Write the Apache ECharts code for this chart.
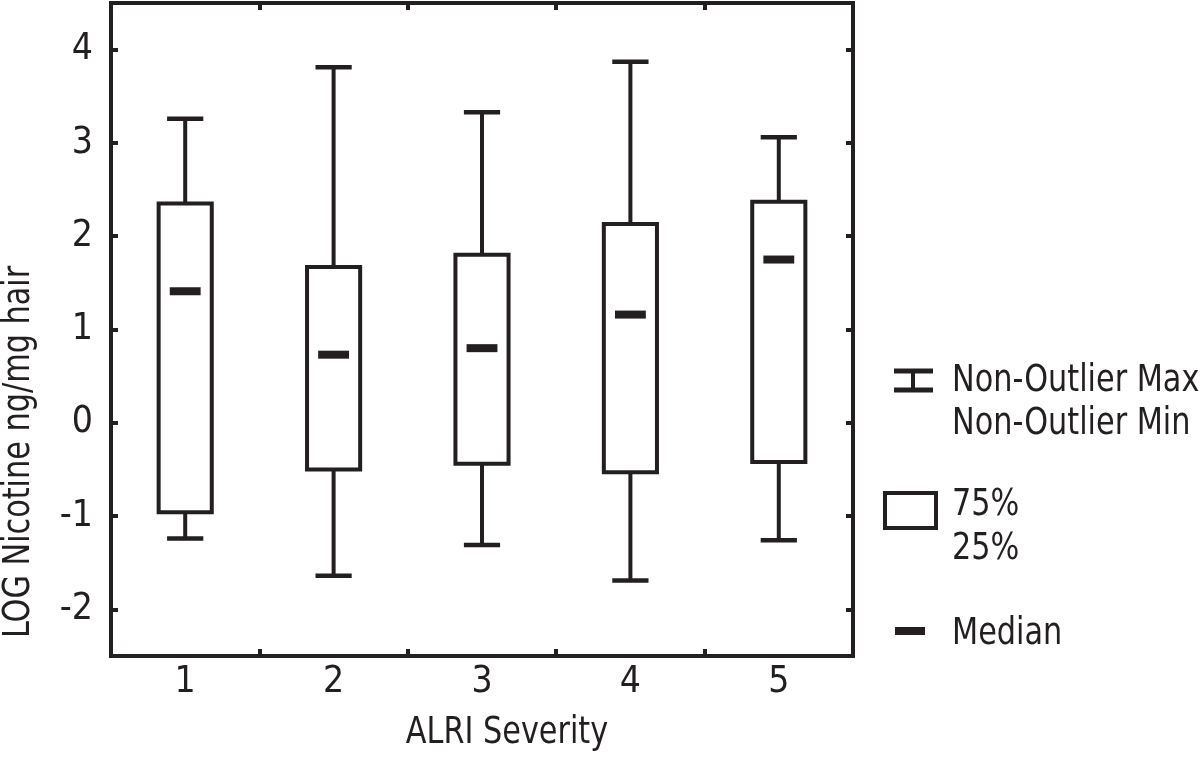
<!DOCTYPE html>
<html>
<head>
<meta charset="utf-8">
<script src="https://cdn.jsdelivr.net/npm/echarts@6/dist/echarts.min.js"></script>
<style>
  html, body { margin: 0; padding: 0; background: #ffffff; }
  #chart { width: 1200px; height: 760px; }
</style>
</head>
<body>
<div id="chart"></div>
<script>
// ---- Data ----
const categories = ['1', '2', '3', '4', '5'];
const whiskerMin = [-1.24, -1.64, -1.31, -1.69, -1.26];
const q1Values   = [-0.96, -0.50, -0.44, -0.53, -0.42];
const medians    = [1.41, 0.73, 0.80, 1.16, 1.75];
const q3Values   = [2.35, 1.67, 1.80, 2.13, 2.37];
const whiskerMax = [3.26, 3.81, 3.33, 3.87, 3.06];
const yTickValues = [-2, -1, 0, 1, 2, 3, 4];
const xTitle = 'ALRI Severity';
const yTitle = 'LOG Nicotine ng/mg hair';
const legendLabels = ['Non-Outlier Max', 'Non-Outlier Min', '75%', '25%', 'Median'];

const INK = '#231f20';
const FONT = "'Liberation Sans Narrow', 'DejaVu Sans Condensed', 'Liberation Sans', sans-serif";
const FS = 37;
const SX = 0.91; // horizontal squeeze to mimic the condensed face

const boxData = categories.map((c, i) => [i, whiskerMin[i], q1Values[i], medians[i], q3Values[i], whiskerMax[i]]);

function renderBox(params, api) {
  const xi = api.value(0);
  const band = api.size([1, 0])[0];
  const pMin = api.coord([xi, api.value(1)]);
  const pQ1 = api.coord([xi, api.value(2)]);
  const pMed = api.coord([xi, api.value(3)]);
  const pQ3 = api.coord([xi, api.value(4)]);
  const pMax = api.coord([xi, api.value(5)]);
  const cx = pMed[0];
  const boxHalf = band * 0.179;
  const capHalf = band * 0.122;
  const medHalf = band * 0.104;
  const lineStyle = { stroke: INK, lineWidth: 4, fill: null };
  return {
    type: 'group',
    children: [
      { type: 'line', shape: { x1: cx, y1: pMax[1], x2: cx, y2: pQ3[1] }, style: lineStyle },
      { type: 'line', shape: { x1: cx, y1: pQ1[1], x2: cx, y2: pMin[1] }, style: lineStyle },
      { type: 'line', shape: { x1: cx - capHalf, y1: pMax[1], x2: cx + capHalf, y2: pMax[1] }, style: { stroke: INK, lineWidth: 4.5 } },
      { type: 'line', shape: { x1: cx - capHalf, y1: pMin[1], x2: cx + capHalf, y2: pMin[1] }, style: { stroke: INK, lineWidth: 4.5 } },
      { type: 'rect', shape: { x: cx - boxHalf, y: pQ3[1], width: boxHalf * 2, height: pQ1[1] - pQ3[1] },
        style: { fill: '#ffffff', stroke: INK, lineWidth: 4 } },
      { type: 'rect', shape: { x: cx - medHalf, y: pMed[1] - 4, width: medHalf * 2, height: 8 },
        style: { fill: INK } }
    ]
  };
}

const axisLineOff = { show: false, onZero: false };

function txt(x, y, text, opts) {
  return Object.assign({
    type: 'text', x: x, y: y, scaleX: SX,
    style: { text: text, font: FS + 'px ' + FONT, fill: INK, align: 'left', verticalAlign: 'middle' }
  }, opts || {});
}

const chart = echarts.init(document.getElementById('chart'), null, { renderer: 'canvas' });
chart.setOption({
  backgroundColor: '#ffffff',
  animation: false,
  textStyle: { fontFamily: FONT },
  grid: {
    left: 111, right: 347, top: 3, bottom: 104,
    show: true, borderColor: INK, borderWidth: 4, backgroundColor: 'transparent'
  },
  xAxis: [
    {
      type: 'category', data: categories, position: 'bottom', boundaryGap: true,
      axisLine: axisLineOff, splitLine: { show: false },
      axisTick: { show: true, inside: true, length: 7, lineStyle: { color: INK, width: 4 } },
      axisLabel: { color: INK, fontSize: FS, fontFamily: FONT, margin: 8 }
    },
    {
      type: 'category', data: categories, position: 'top', boundaryGap: true,
      axisLine: axisLineOff, splitLine: { show: false },
      axisTick: { show: true, inside: true, length: 7, lineStyle: { color: INK, width: 4 } },
      axisLabel: { show: false }
    }
  ],
  yAxis: [
    {
      type: 'value', min: -2.5, max: 4.5, position: 'left',
      axisLine: axisLineOff, splitLine: { show: false },
      axisTick: { show: true, inside: true, length: 7, customValues: yTickValues, lineStyle: { color: INK, width: 4 } },
      axisLabel: { color: INK, fontSize: FS, fontFamily: FONT, margin: 18, customValues: yTickValues }
    },
    {
      type: 'value', min: -2.5, max: 4.5, position: 'right',
      axisLine: axisLineOff, splitLine: { show: false },
      axisTick: { show: true, inside: true, length: 7, customValues: yTickValues, lineStyle: { color: INK, width: 4 } },
      axisLabel: { show: false, customValues: yTickValues }
    }
  ],
  series: [{
    type: 'custom',
    renderItem: renderBox,
    data: boxData,
    encode: { x: 0, y: [1, 2, 3, 4, 5] },
    z: 5
  }],
  graphic: [
    txt(507, 733, xTitle, { style: { text: xTitle, font: FS + 'px ' + FONT, fill: INK, align: 'center', verticalAlign: 'middle' } }),
    txt(19, 452, yTitle, { rotation: Math.PI / 2, style: { text: yTitle, font: FS + 'px ' + FONT, fill: INK, align: 'center', verticalAlign: 'middle' } }),
    // legend: whisker symbol
    { type: 'line', shape: { x1: 894, y1: 371, x2: 933, y2: 371 }, style: { stroke: INK, lineWidth: 5 } },
    { type: 'line', shape: { x1: 894, y1: 390, x2: 933, y2: 390 }, style: { stroke: INK, lineWidth: 5 } },
    { type: 'line', shape: { x1: 913, y1: 371, x2: 913, y2: 390 }, style: { stroke: INK, lineWidth: 4 } },
    txt(952, 381, legendLabels[0]),
    txt(952, 424, legendLabels[1]),
    // legend: box symbol
    { type: 'rect', shape: { x: 885, y: 493, width: 51, height: 35 }, style: { fill: '#ffffff', stroke: INK, lineWidth: 4 } },
    txt(952, 505, legendLabels[2]),
    txt(952, 549, legendLabels[3]),
    // legend: median symbol
    { type: 'rect', shape: { x: 895, y: 627, width: 30, height: 8 }, style: { fill: INK } },
    txt(952, 634, legendLabels[4])
  ]
});
</script>
</body>
</html>
